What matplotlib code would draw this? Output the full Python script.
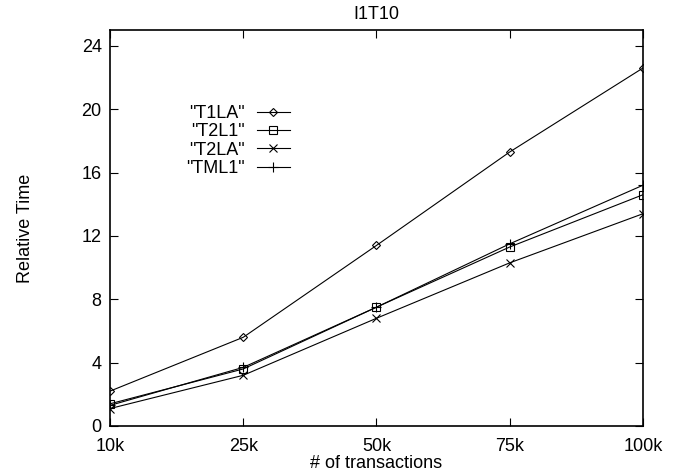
import matplotlib
matplotlib.use("Agg")
import matplotlib.pyplot as plt

plt.rcParams['font.family'] = ['Liberation Sans', 'DejaVu Sans']

# transactions (evenly spaced categories)
sizes = ['10k', '25k', '50k', '75k', '100k']
t1la = [2.2, 5.6, 11.4, 17.3, 22.6]
t2l1 = [1.4, 3.6, 7.5, 11.3, 14.6]
t2la = [1.1, 3.2, 6.8, 10.3, 13.4]
tml1 = [1.3, 3.7, 7.5, 11.5, 15.2]
yticks = [0, 4, 8, 12, 16, 20, 24]

fig = plt.figure(figsize=(6.85, 4.75), dpi=100)
ax = fig.add_axes([0.1606, 0.1032, 0.778, 0.8336])

x = list(range(len(sizes)))
lw = 0.8
ax.plot(x, t1la, color='black', lw=lw, marker='D', ms=4.2, mfc='none', mew=0.8, label='"T1LA"')
ax.plot(x, t2l1, color='black', lw=lw, marker='s', ms=5.5, mfc='none', mew=0.8, label='"T2L1"')
ax.plot(x, t2la, color='black', lw=lw, marker='x', ms=6, mew=0.8, label='"T2LA"')
ax.plot(x, tml1, color='black', lw=lw, marker='+', ms=7, mew=0.8, label='"TML1"')

ax.set_xlim(0, len(sizes) - 1)
ax.set_ylim(0, 25)
ax.set_xticks(x)
ax.set_xticklabels(sizes)
ax.set_yticks(yticks)
ax.tick_params(direction='in', top=True, right=True, length=6, width=0.8,
               labelsize=13)
ax.tick_params(axis='x', pad=9)
ax.tick_params(axis='y', pad=6)
for s in ax.spines.values():
    s.set_linewidth(1.2)

ax.set_title('I1T10', fontsize=13, pad=8)
ax.set_xlabel('# of transactions', fontsize=13, labelpad=0)
ax.set_ylabel('Relative Time', fontsize=13, labelpad=34)

ax.legend(loc='upper right', bbox_to_anchor=(0.338, 0.811), markerfirst=False,
          frameon=False, fontsize=13, handlelength=1.85, handletextpad=0.65,
          borderpad=0, borderaxespad=0, labelspacing=0.08)

fig.savefig('out.png', dpi=100)
